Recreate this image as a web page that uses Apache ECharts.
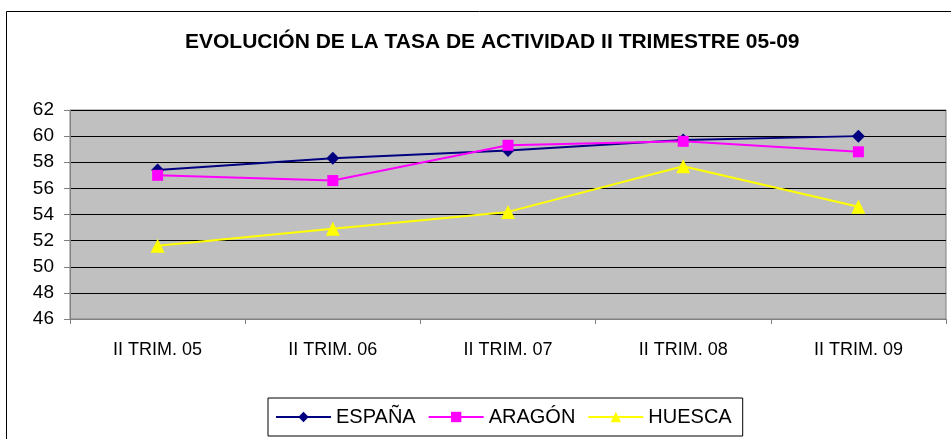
<!DOCTYPE html>
<html>
<head>
<meta charset="utf-8">
<script src="https://cdn.jsdelivr.net/npm/echarts@6/dist/echarts.min.js"></script>
<style>
html,body{margin:0;padding:0;background:#fff;}
#main{width:951px;height:439px;}
</style>
</head>
<body>
<div id="main"></div>
<script>
var categories = ['II TRIM. 05', 'II TRIM. 06', 'II TRIM. 07', 'II TRIM. 08', 'II TRIM. 09'];
var espana = [57.4, 58.3, 58.9, 59.7, 60.0];
var aragon = [57.0, 56.6, 59.3, 59.6, 58.8];
var huesca = [51.6, 52.9, 54.2, 57.7, 54.6];

var chart = echarts.init(document.getElementById('main'));
var font = 'Liberation Sans, Arial, sans-serif';
var option = {
    animation: false,
    backgroundColor: '#ffffff',
    title: {
        text: 'EVOLUCIÓN DE LA TASA DE ACTIVIDAD II TRIMESTRE 05-09',
        left: 180,
        top: 27,
        textStyle: {
            color: '#000',
            fontFamily: font,
            fontWeight: 'bold',
            fontSize: 21
        }
    },
    graphic: [{
        type: 'rect',
        shape: {x: 6.5, y: 11.5, width: 1000, height: 500},
        style: {fill: 'none', stroke: '#000', lineWidth: 1},
        silent: true
    }],
    legend: {
        bottom: 3,
        left: 268,
        itemWidth: 55,
        itemHeight: 13,
        itemGap: 12,
        padding: [9, 11, 9, 7],
        borderColor: '#000',
        borderWidth: 1,
        textStyle: {color: '#000', fontFamily: font, fontSize: 20},
        data: ['ESPAÑA', 'ARAGÓN', 'HUESCA']
    },
    grid: {
        left: 70,
        top: 110,
        right: 5,
        bottom: 120,
        show: true,
        backgroundColor: '#c0c0c0',
        borderColor: '#808080',
        borderWidth: 1
    },
    xAxis: {
        type: 'category',
        data: categories,
        boundaryGap: true,
        axisLine: {lineStyle: {color: '#808080', width: 1}},
        axisTick: {show: true, length: 5, lineStyle: {color: '#808080'}},
        axisLabel: {color: '#000', fontFamily: font, fontSize: 18, margin: 22}
    },
    yAxis: {
        type: 'value',
        min: 46,
        max: 62,
        interval: 2,
        axisLine: {show: true, lineStyle: {color: '#808080', width: 1}},
        axisTick: {show: true, length: 6, lineStyle: {color: '#808080'}},
        axisLabel: {color: '#000', fontFamily: font, fontSize: 19, margin: 16},
        splitLine: {lineStyle: {color: '#000', width: 1}}
    },
    series: [
        {
            name: 'ESPAÑA',
            type: 'line',
            data: espana,
            symbol: 'diamond',
            symbolSize: 13,
            color: '#000080',
            lineStyle: {color: '#000080', width: 2}
        },
        {
            name: 'ARAGÓN',
            type: 'line',
            data: aragon,
            symbol: 'rect',
            symbolSize: 11,
            color: '#ff00ff',
            lineStyle: {color: '#ff00ff', width: 2}
        },
        {
            name: 'HUESCA',
            type: 'line',
            data: huesca,
            symbol: 'triangle',
            symbolSize: 14,
            color: '#ffff00',
            lineStyle: {color: '#ffff00', width: 2}
        }
    ]
};
chart.setOption(option);
</script>
</body>
</html>
